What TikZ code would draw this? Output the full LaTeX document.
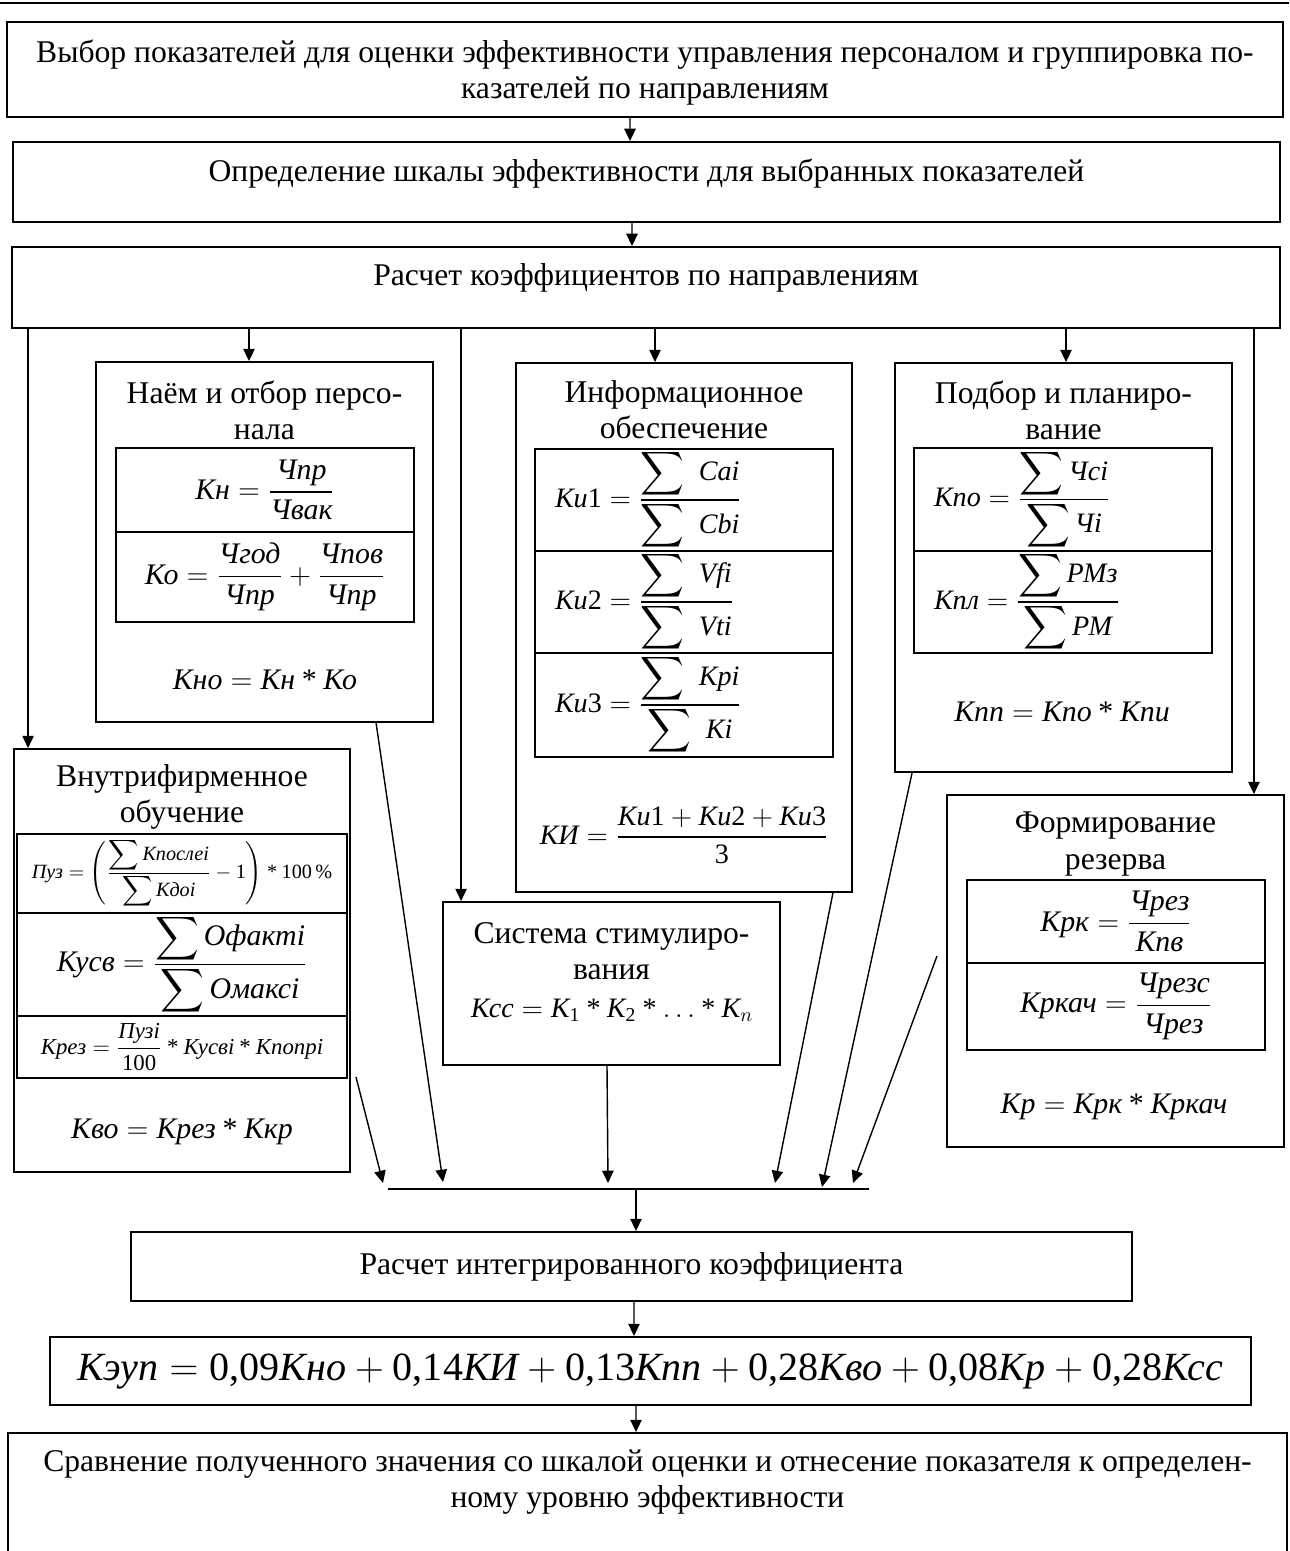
\documentclass[tikz,border=0pt]{standalone}
\usepackage{fix-cm}
\usepackage{amsmath}
\usepackage{fontspec}
\setmainfont{Liberation Serif}
\usetikzlibrary{arrows.meta,calc}
\newcommand{\kv}[1]{\textit{#1}}
\newcommand{\umn}{\mathbin{\textup{*}}}
\newcommand{\bsum}{\displaystyle\sum}
\tikzset{
  blok/.style = {rectangle, draw=black, line width=1.1pt, inner sep=0pt,
    align=center, font=\fontsize{18}{20.5}\selectfont},% большой блок
  zag/.style = {align=center, inner sep=0pt,
    font=\fontsize{18}{20.5}\selectfont},% заголовок направления
  fram/.style = {rectangle, draw=black, line width=1pt, inner sep=0pt,
    font=\fontsize{17}{20}\selectfont},% рамка формулы
  framl/.style = {fram, align=left, inner xsep=0.4cm, text width=5.16cm,
    font=\fontsize{16}{19}\selectfont},
  ftext/.style = {inner sep=0pt, font=\fontsize{17}{20}\selectfont},
  svyaz/.style = {->, line width=0.8pt}
}

\begin{document}
\begin{tikzpicture}[x=0.02cm, y=-0.02cm, >={Triangle[length=7pt,width=6.5pt]}]
  \useasboundingbox (0,0) rectangle (1289,1551);
  \draw [line width=1.7pt] (0,3) -- (1289,3);

  % верхние блоки
  \node [blok, minimum width=25.52cm, minimum height=1.9cm, text depth=0pt] (vybor) at (645,69.5)
    {Выбор показателей для оценки эффективности управления персоналом и группировка по-\\казателей по направлениям};
  \node [blok, minimum width=25.34cm, minimum height=1.6cm, text depth=14pt] (shkala) at (646.5,182)
    {Определение шкалы эффективности для выбранных показателей};
  \node [blok, minimum width=25.36cm, minimum height=1.62cm, text depth=14.5pt] (raschet) at (646,287.5)
    {Расчет коэффициентов по направлениям};

  % наём
  \node [blok, minimum width=6.74cm, minimum height=7.2cm] (naem) at (264.5,542) {};
  \node [zag] (naem-t) at (264.5,410) {Наём и отбор персо-\\нала};
  \node [fram, minimum width=5.96cm, minimum height=1.68cm] (naem-f1) at (265,490)
    {$\kv{Кн}=\dfrac{\kv{Чпр}}{\kv{Чвак}}$};
  \node [fram, minimum width=5.96cm, minimum height=1.8cm] (naem-f2) at (265,577)
    {$\kv{Ко}=\dfrac{\kv{Чгод}}{\kv{Чпр}}+\dfrac{\kv{Чпов}}{\kv{Чпр}}$};
  \node [ftext] (naem-k) at (265,680) {$\kv{Кно}=\kv{Кн}\umn\kv{Ко}$};

  % информационное обеспечение
  \node [blok, minimum width=6.72cm, minimum height=10.58cm] (info) at (684,627.5) {};
  \node [zag] (info-t) at (684,410) {Информационное\\обеспечение};
  \node [framl, minimum height=2.04cm] (info-f1) at (684,500)
    {$\kv{Ки}\textup{1}=\frac{\bsum\ \kv{Cai}}{\bsum\ \kv{Cbi}}$};
  \node [framl, minimum height=2.04cm] (info-f2) at (684,602)
    {$\kv{Ки}\textup{2}=\frac{\bsum\ \kv{Vfi}}{\bsum\ \kv{Vti}}$};
  \node [framl, minimum height=2.08cm] (info-f3) at (684,705)
    {$\kv{Ки}\textup{3}=\frac{\bsum\ \kv{Kpi}}{\bsum\ \kv{Ki}}$};
  \node [ftext, font=\fontsize{16}{19}\selectfont] (info-k) at (684,835)
    {$\kv{КИ}=\dfrac{\kv{Ки}\textup{1}+\kv{Ки}\textup{2}+\kv{Ки}\textup{3}}{\textup{3}}$};

  % подбор и планирование
  \node [blok, minimum width=6.74cm, minimum height=8.18cm] (podbor) at (1063.5,567.5) {};
  \node [zag] (podbor-t) at (1063.5,410) {Подбор и планиро-\\вание};
  \node [framl, minimum height=2.06cm] (podbor-f1) at (1063,499.5)
    {$\kv{Кпо}=\frac{\bsum\kv{Чсi}}{\bsum\kv{Чi}}$};
  \node [framl, minimum height=2.04cm] (podbor-f2) at (1063,602)
    {$\kv{Кпл}=\frac{\bsum\kv{РМз}}{\bsum\kv{РМ}}$};
  \node [ftext] (podbor-k) at (1062,712) {$\kv{Кпп}=\kv{Кпо}\umn\kv{Кпи}$};

  % внутрифирменное обучение
  \node [blok, minimum width=6.72cm, minimum height=8.46cm] (vnutr) at (182,960.5) {};
  \node [zag] (vnutr-t) at (182,797) {Внутрифирменное\\обучение};
  \node [fram, minimum width=6.6cm, minimum height=1.58cm, font=\fontsize{11.5}{14}\selectfont] (vnutr-f1) at (182,873.5)
    {$\kv{Пуз}=\left(\frac{\bsum\kv{Кпослеi}}{\bsum\kv{Кдоi}}-\textup{1}\right)\umn\textup{100\,\%}$};
  \node [fram, minimum width=6.6cm, minimum height=2.06cm] (vnutr-f2) at (182,964.5)
    {$\kv{Кусв}=\frac{\bsum\kv{Офактi}}{\bsum\kv{Омаксi}}$};
  \node [fram, minimum width=6.6cm, minimum height=1.24cm, font=\fontsize{13}{15}\selectfont] (vnutr-f3) at (182,1047)
    {$\kv{Крез}=\dfrac{\kv{Пузi}}{\textup{100}}\umn\kv{Кусвi}\umn\kv{Кпопрi}$};
  \node [ftext] (vnutr-k) at (182,1132) {$\kv{Кво}=\kv{Крез}\umn\kv{Ккр}$};

  % система стимулирования
  \node [blok, minimum width=6.74cm, minimum height=3.26cm] (stim) at (611.5,983.5) {};
  \node [zag] (stim-t) at (611.5,951) {Система стимулиро-\\вания};
  \node [ftext, font=\fontsize{16}{19}\selectfont] (stim-k) at (612,1010)
    {$\kv{Ксс}=\kv{К}_{\textup{1}}\umn\kv{К}_{\textup{2}}\umn\ldots\umn\kv{К}_n$};

  % формирование резерва
  \node [blok, minimum width=6.74cm, minimum height=7.04cm] (rezerv) at (1115.5,971) {};
  \node [zag] (rezerv-t) at (1115.5,844) {Формирование\\резерва};
  \node [fram, minimum width=5.96cm, minimum height=1.66cm] (rezerv-f1) at (1116,921.5)
    {$\kv{Крк}=\dfrac{\kv{Чрез}}{\kv{Кпв}}$};
  \node [fram, minimum width=5.96cm, minimum height=1.74cm] (rezerv-f2) at (1116,1006.5)
    {$\kv{Кркач}=\dfrac{\kv{Чрезс}}{\kv{Чрез}}$};
  \node [ftext] (rezerv-k) at (1114,1107) {$\kv{Кр}=\kv{Крк}\umn\kv{Кркач}$};

  % нижние блоки
  \node [blok, minimum width=20.02cm, minimum height=1.38cm] (integr) at (631.5,1266.5)
    {Расчет интегрированного коэффициента};
  \node [blok, minimum width=24.02cm, minimum height=1.36cm, font=\fontsize{22.8}{26}\selectfont] (itog) at (650.5,1371)
    {$\kv{Кэуп}=\textup{0,09}\kv{Кно}+\textup{0,14}\kv{КИ}+\textup{0,13}\kv{Кпп}+\textup{0,28}\kv{Кво}+\textup{0,08}\kv{Кр}+\textup{0,28}\kv{Ксс}$};
  \node [blok, minimum width=25.58cm, minimum height=2.46cm, text depth=17.5pt] (sravn) at (647.5,1494.5)
    {Сравнение полученного значения со шкалой оценки и отнесение показателя к определен-\\ному уровню эффективности};

  % связи сверху
  \draw [svyaz] ([xshift=-0.3cm]vybor.south) -- ([xshift=-0.33cm]shkala.north);
  \draw [svyaz] ([xshift=-0.29cm]shkala.south) -- ([xshift=-0.28cm]raschet.north);

  \coordinate (vnutr-in) at ([xshift=0.3cm]vnutr.north west);
  \coordinate (naem-in) at ([xshift=-0.31cm]naem.north);
  \coordinate (stim-in) at ([xshift=0.38cm]stim.north west);
  \coordinate (info-in) at ([xshift=-0.58cm]info.north);
  \coordinate (podbor-in) at ([xshift=0.05cm]podbor.north);
  \coordinate (rezerv-in) at ([xshift=-0.62cm]rezerv.north east);
  \draw [svyaz] (raschet.south -| vnutr-in) -- (vnutr-in);
  \draw [svyaz] (raschet.south -| naem-in) -- (naem-in);
  \draw [svyaz] (raschet.south -| stim-in) -- (stim-in);
  \draw [svyaz] (raschet.south -| info-in) -- (info-in);
  \draw [svyaz] (raschet.south -| podbor-in) -- (podbor-in);
  \draw [svyaz] (raschet.south -| rezerv-in) -- (rezerv-in);

  % сборная линия
  \coordinate (sbor-l) at (388,1189);
  \coordinate (sbor-r) at (869,1189);
  \draw [line width=0.8pt] (sbor-l) -- (sbor-r);
  \coordinate (vnutr-out) at (356,1077);
  \coordinate (rezerv-out) at (937,956);
  \draw [svyaz] (vnutr-out) -- ($(sbor-l)+(-5,-6)$);
  \draw [svyaz] ($(naem.south west)+(281,0)$) -- ($(sbor-l)+(55,-7)$);
  \draw [svyaz] ([xshift=-0.09cm]stim.south) -- ($(sbor-l)+(220,-6)$);
  \draw [svyaz] ([xshift=-0.4cm]info.south east) -- ($(sbor-l)+(387,-6)$);
  \draw [svyaz] ([xshift=0.36cm]podbor.south west) -- ($(sbor-l)+(434,-2)$);
  \draw [svyaz] (rezerv-out) -- ($(sbor-l)+(465,-6)$);

  % связи снизу
  \coordinate (integr-in) at ([xshift=0.09cm]integr.north);
  \draw [svyaz] (sbor-l -| integr-in) -- (integr-in);
  \draw [svyaz] ([xshift=0.05cm]integr.south) -- ([xshift=-0.33cm]itog.north);
  \draw [svyaz] ([xshift=-0.29cm]itog.south) -- ([xshift=-0.23cm]sravn.north);
\end{tikzpicture}
\end{document}
